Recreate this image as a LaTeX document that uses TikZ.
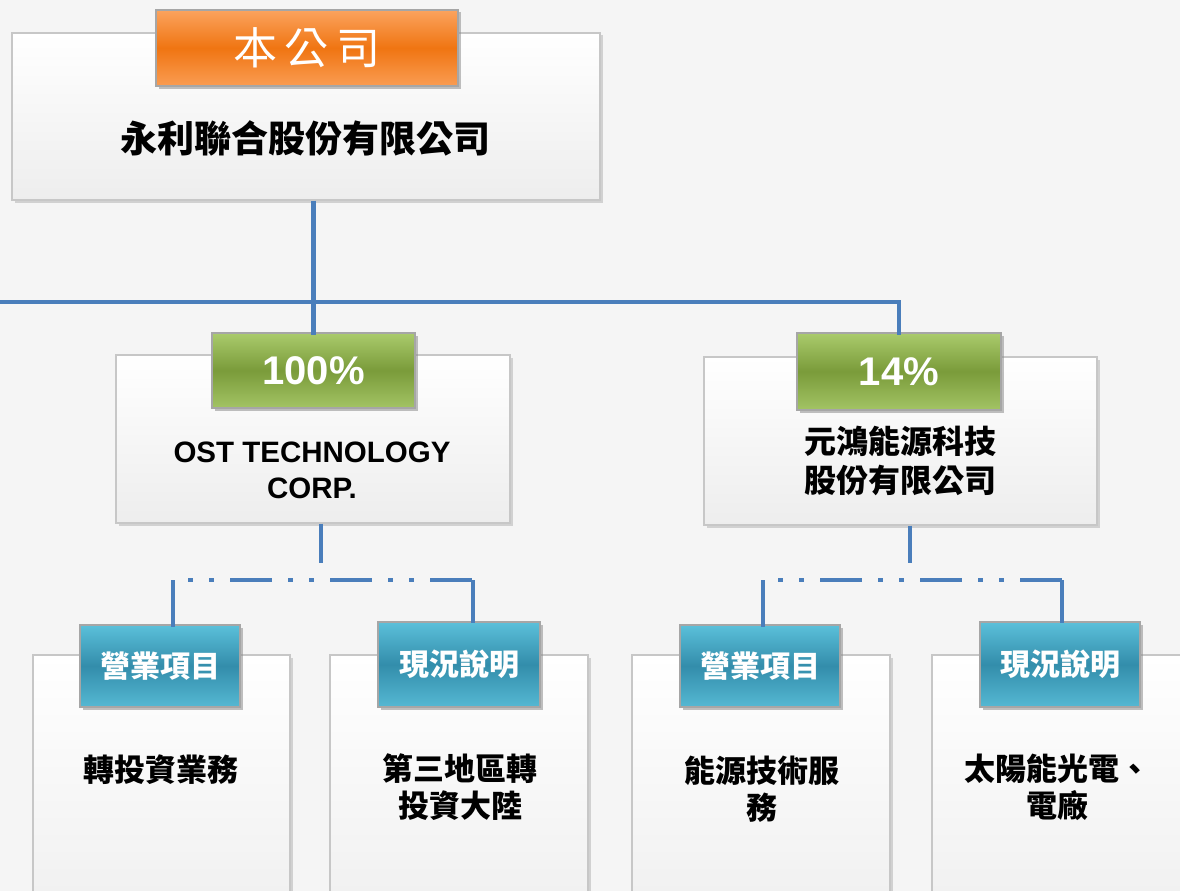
\documentclass[tikz,border=0pt]{standalone}
\usepackage{fontspec}
\setmainfont{Liberation Sans}
\newfontfamily\cjk{Noto Sans CJK TC}
\usetikzlibrary{shadows}
\definecolor{lnblue}{HTML}{4A7EBB}
\definecolor{bgcol}{HTML}{F5F5F5}
\definecolor{orglight}{HTML}{FBA35E}
\definecolor{orgdark}{HTML}{F07512}
\definecolor{grnlight}{HTML}{AACB6C}
\definecolor{grndark}{HTML}{7A9B3A}
\definecolor{bluelight}{HTML}{5BC0DA}
\definecolor{bluedark}{HTML}{338DAB}

\begin{document}
\begin{tikzpicture}[x=1pt,y=-1pt,
  panel/.style={rectangle,draw=black!22,line width=1.2pt,top color=white,bottom color=black!7,
    inner sep=0pt,drop shadow={shadow xshift=2.5pt,shadow yshift=-2.5pt,fill=black!35,opacity=.45}},
  tagbox/.style={rectangle,draw=black!35,line width=1.5pt,inner sep=0pt,text=white,
    drop shadow={shadow xshift=2.5pt,shadow yshift=-2.5pt,fill=black!45,opacity=.55}},
  orangetag/.style={tagbox,top color=orglight,bottom color=orglight!85!orgdark,middle color=orgdark},
  greentag/.style={tagbox,top color=grnlight,bottom color=grnlight!85!grndark,middle color=grndark},
  bluetag/.style={tagbox,top color=bluelight,bottom color=bluelight!85!bluedark,middle color=bluedark,
    font=\cjk\bfseries\fontsize{30}{30}\selectfont},
  boxtext/.style={align=center,font=\cjk\bfseries\fontsize{32}{39}\selectfont},
  link/.style={lnblue,line width=4.5pt},
  dashlink/.style={link,dash pattern=on 5pt off 16pt on 5pt off 16pt on 42pt off 16pt,dash phase=85pt}]

  \fill[bgcol] (0,0) rectangle (1180,891);
  \clip (0,0) rectangle (1180,891);

  % parent company
  \node[panel,minimum width=588pt,minimum height=167pt] (top) at (306,116.5) {};
  \node[orangetag,minimum width=302pt,minimum height=76pt,font=\cjk\fontsize{44}{44}\selectfont] (toptag) at (307,48) {本\,公\,司};
  \node[boxtext,font=\cjk\bfseries\fontsize{37}{40}\selectfont] (topname) at (305,138) {永利聯合股份有限公司};

  % subsidiaries
  \node[panel,minimum width=394pt,minimum height=168pt] (ost) at (313,439) {};
  \node[greentag,minimum width=203pt,minimum height=75pt,font=\bfseries\fontsize{40}{40}\selectfont] (osttag) at (313.5,370.5) {100\%};
  \node[align=center,font=\bfseries\fontsize{29.5}{36}\selectfont] (ostname) at (312,470) {OST TECHNOLOGY\\CORP.};

  \node[panel,minimum width=393pt,minimum height=168pt] (yd) at (900.5,441) {};
  \node[greentag,minimum width=204pt,minimum height=77pt,font=\bfseries\fontsize{40}{40}\selectfont] (ydtag) at (899,371.5) {14\%};
  \node[boxtext] (ydname) at (900,461) {元鴻能源科技\\股份有限公司};

  % detail boxes
  \node[panel,minimum width=257pt,minimum height=305pt] (b1) at (161.5,807.5) {};
  \node[panel,minimum width=258pt,minimum height=305pt] (b2) at (459,807.5) {};
  \node[panel,minimum width=258pt,minimum height=305pt] (b3) at (761,807.5) {};
  \node[panel,minimum width=258pt,minimum height=305pt] (b4) at (1061,807.5) {};

  \node[bluetag,minimum width=160pt,minimum height=82pt] (t1) at (160,666) {營業項目};
  \node[bluetag,minimum width=162pt,minimum height=85pt] (t2) at (459,664.5) {現況說明};
  \node[bluetag,minimum width=160pt,minimum height=82pt] (t3) at (760,666) {營業項目};
  \node[bluetag,minimum width=160pt,minimum height=85pt] (t4) at (1060,664.5) {現況說明};

  \node[boxtext,font=\cjk\bfseries\fontsize{31}{37}\selectfont] (b1txt) at (161,770) {轉投資業務};
  \node[boxtext,font=\cjk\bfseries\fontsize{31}{37}\selectfont] (b2txt) at (460,787) {第三地區轉\\投資大陸};
  \node[boxtext,font=\cjk\bfseries\fontsize{31}{37}\selectfont] (b3txt) at (762,789) {能源技術服\\務};
  \node[boxtext,font=\cjk\bfseries\fontsize{31}{37}\selectfont] (b4txt) at (1057,787) {太陽能光電、\\電廠};

  % junction points
  \coordinate (lft) at (0,302);
  \coordinate (j1) at (321,563);
  \coordinate (j2) at (910,563);
  \coordinate (r1a) at (173,580);
  \coordinate (r1b) at (473,580);
  \coordinate (r2a) at (763,580);
  \coordinate (r2b) at (1062,580);

  \draw[link] (osttag.north |- top.south) -- ([yshift=-3pt]osttag.north);
  \draw[link] (lft) -- (lft -| ydtag.north) -- ([yshift=-3pt]ydtag.north);
  \draw[link] (ost.south -| j1) -- (j1);
  \draw[link] (yd.south -| j2) -- (j2);

  \draw[dashlink] (r1a) -- (r1b);
  \draw[dashlink] (r2a) -- (r2b);
  \draw[link] (r1a) -- ([yshift=-3pt]r1a |- t1.north);
  \draw[link] (r1b) -- ([yshift=-2pt]r1b |- t2.north);
  \draw[link] (r2a) -- ([yshift=-3pt]r2a |- t3.north);
  \draw[link] (r2b) -- ([yshift=-2pt]r2b |- t4.north);
\end{tikzpicture}
\end{document}
